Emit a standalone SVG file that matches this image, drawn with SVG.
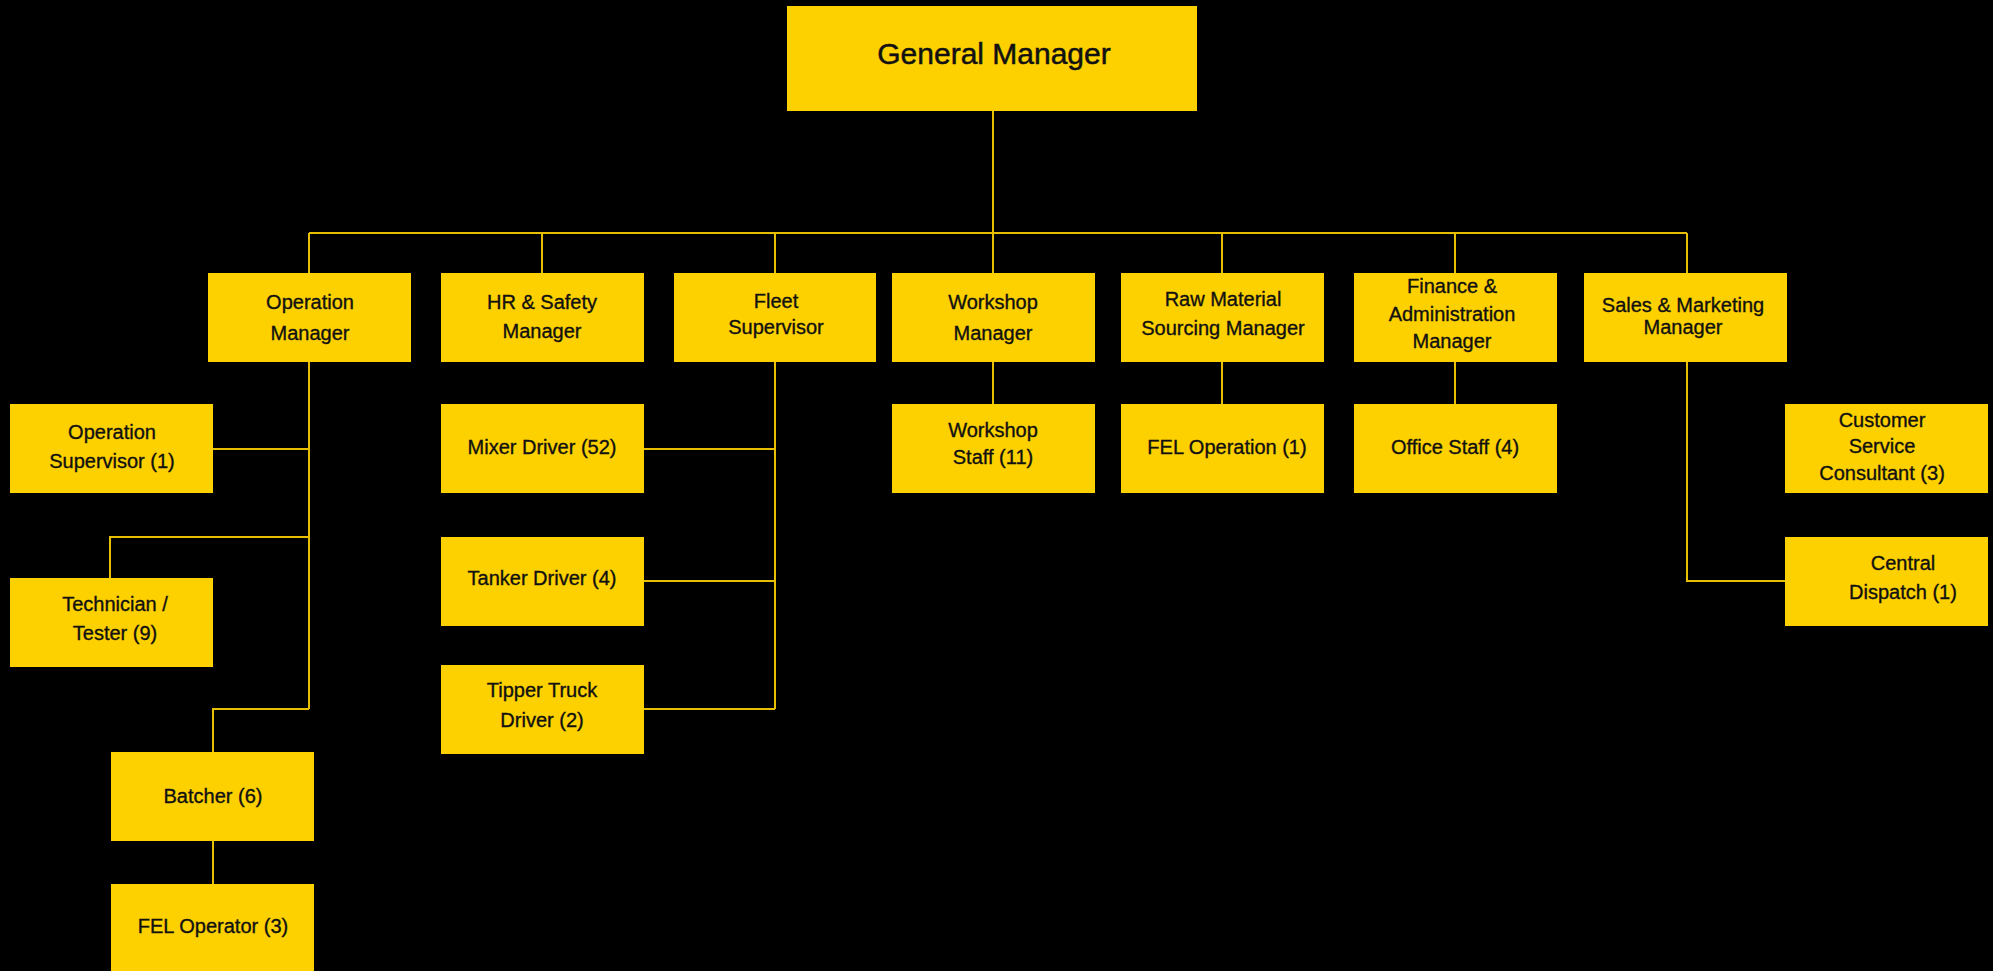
<svg xmlns="http://www.w3.org/2000/svg" width="1993" height="971" viewBox="0 0 1993 971">
<style>
.bg{fill:#000}
.box{fill:#FDD000}
.t{font-family:"Liberation Sans",Arial,Helvetica,sans-serif;font-size:20px;fill:#111;stroke:#111;stroke-width:0.35;text-anchor:middle}
.big{font-size:30px;stroke-width:0.5}
.c{fill:none;stroke:#E8BE00;stroke-width:2}
</style>
<rect class="bg" x="0" y="0" width="1993" height="971"/>
<g id="connectors">
<path class="c" d="M993,111V233M309,233H1687M309,233V273M542,233V273M775,233V273M993,233V273M1222,233V273M1455,233V273M1687,233V273"/>
<path class="c" d="M309,362V709M213,449H309M110,578V537H309M213,752V709H309M213,841V884"/>
<path class="c" d="M775,362V709M644,449H775M644,581H775M644,709H775"/>
<path class="c" d="M993,362V404M1222,362V404M1455,362V404"/>
<path class="c" d="M1687,362V581H1785"/>
</g>
<g id="general-manager"><rect class="box" x="787" y="6" width="410" height="105"/><text class="t big" x="994" y="64">General Manager</text></g>
<g id="operation-manager"><rect class="box" x="208" y="273" width="203" height="89"/><text class="t" x="310" y="309">Operation</text><text class="t" x="310" y="340">Manager</text></g>
<g id="hr-safety-manager"><rect class="box" x="441" y="273" width="203" height="89"/><text class="t" x="542" y="309">HR &amp; Safety</text><text class="t" x="542" y="338">Manager</text></g>
<g id="fleet-supervisor"><rect class="box" x="674" y="273" width="202" height="89"/><text class="t" x="776" y="308">Fleet</text><text class="t" x="776" y="334">Supervisor</text></g>
<g id="workshop-manager"><rect class="box" x="892" y="273" width="203" height="89"/><text class="t" x="993" y="309">Workshop</text><text class="t" x="993" y="340">Manager</text></g>
<g id="raw-material-manager"><rect class="box" x="1121" y="273" width="203" height="89"/><text class="t" x="1223" y="306">Raw Material</text><text class="t" x="1223" y="335">Sourcing Manager</text></g>
<g id="finance-manager"><rect class="box" x="1354" y="273" width="203" height="89"/><text class="t" x="1452" y="293">Finance &amp;</text><text class="t" x="1452" y="321">Administration</text><text class="t" x="1452" y="348">Manager</text></g>
<g id="sales-marketing-manager"><rect class="box" x="1584" y="273" width="203" height="89"/><text class="t" x="1683" y="312">Sales &amp; Marketing</text><text class="t" x="1683" y="334">Manager</text></g>
<g id="operation-supervisor"><rect class="box" x="10" y="404" width="203" height="89"/><text class="t" x="112" y="439">Operation</text><text class="t" x="112" y="468">Supervisor (1)</text></g>
<g id="technician-tester"><rect class="box" x="10" y="578" width="203" height="89"/><text class="t" x="115" y="611">Technician /</text><text class="t" x="115" y="640">Tester (9)</text></g>
<g id="batcher"><rect class="box" x="111" y="752" width="203" height="89"/><text class="t" x="213" y="803">Batcher (6)</text></g>
<g id="fel-operator"><rect class="box" x="111" y="884" width="203" height="89"/><text class="t" x="213" y="933">FEL Operator (3)</text></g>
<g id="mixer-driver"><rect class="box" x="441" y="404" width="203" height="89"/><text class="t" x="542" y="454">Mixer Driver (52)</text></g>
<g id="tanker-driver"><rect class="box" x="441" y="537" width="203" height="89"/><text class="t" x="542" y="585">Tanker Driver (4)</text></g>
<g id="tipper-truck-driver"><rect class="box" x="441" y="665" width="203" height="89"/><text class="t" x="542" y="697">Tipper Truck</text><text class="t" x="542" y="727">Driver (2)</text></g>
<g id="workshop-staff"><rect class="box" x="892" y="404" width="203" height="89"/><text class="t" x="993" y="437">Workshop</text><text class="t" x="993" y="464">Staff (11)</text></g>
<g id="fel-operation"><rect class="box" x="1121" y="404" width="203" height="89"/><text class="t" x="1227" y="454">FEL Operation (1)</text></g>
<g id="office-staff"><rect class="box" x="1354" y="404" width="203" height="89"/><text class="t" x="1455" y="454">Office Staff (4)</text></g>
<g id="customer-service-consultant"><rect class="box" x="1785" y="404" width="203" height="89"/><text class="t" x="1882" y="427">Customer</text><text class="t" x="1882" y="453">Service</text><text class="t" x="1882" y="480">Consultant (3)</text></g>
<g id="central-dispatch"><rect class="box" x="1785" y="537" width="203" height="89"/><text class="t" x="1903" y="570">Central</text><text class="t" x="1903" y="599">Dispatch (1)</text></g>
</svg>
